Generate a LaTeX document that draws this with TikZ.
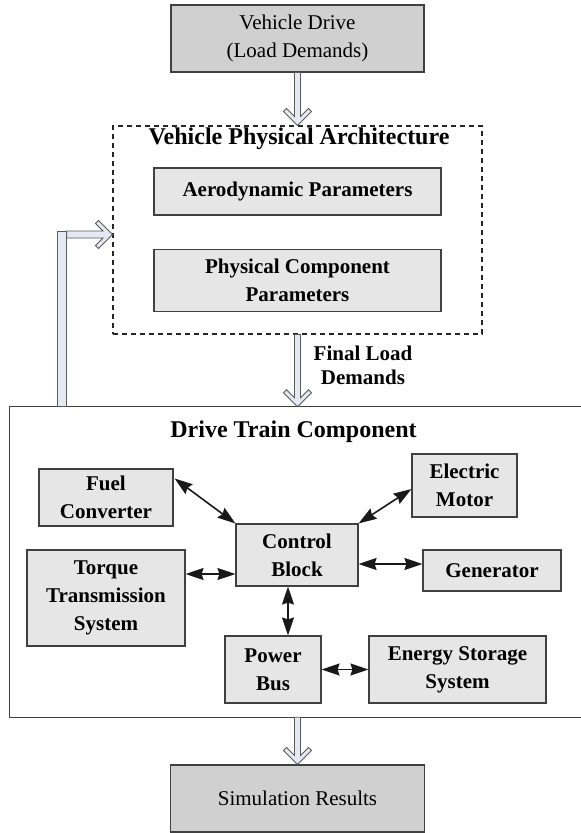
\documentclass[tikz,border=0pt]{standalone}
\usepackage{fontspec}
\setmainfont{Liberation Serif}
\usetikzlibrary{arrows.meta,calc}
\definecolor{boxdark}{HTML}{D0D0D0}
\definecolor{boxlight}{HTML}{E6E6E6}
\definecolor{edge}{HTML}{404040}
\definecolor{pipe}{HTML}{E4E9F3}
\definecolor{pipeedge}{HTML}{5A5A5A}
\tikzset{
  outer/.style={draw=edge, fill=boxdark, line width=1.1pt, inner sep=0pt, align=center,
    font=\fontsize{21}{28}\selectfont},
  part/.style={draw=edge, fill=boxlight, line width=1.1pt, inner sep=0pt, align=center,
    font=\fontsize{21}{28}\selectfont\bfseries},
  heading/.style={inner sep=0pt, align=center, font=\fontsize{24}{28}\selectfont\bfseries},
  note/.style={inner sep=0pt, align=center, font=\fontsize{21}{24}\selectfont\bfseries},
  frame/.style={draw=edge, line width=1.1pt},
  dashframe/.style={draw=black!85, line width=1.1pt, dash pattern=on 5pt off 4pt},
  biarrow/.style={{Stealth[length=18pt,width=12pt,inset=2pt]}-{Stealth[length=18pt,width=12pt,inset=2pt]},
    line width=1.6pt, black!90},
  hollow/.style={draw=pipeedge, fill=pipe, line width=0.8pt, line join=miter},
}
% hollow block arrow pointing down, from anchor #1 to anchor #2
\newcommand\pipedown[2]{%
  \path[hollow] let \p1=(#1), \p2=(#2) in
    (\x1-3pt,\y1) -- (\x1-3pt,\y2+9pt) -- (\x1-11pt,\y2+17pt) -- (\x1-14pt,\y2+14pt)
    -- (\x1,\y2) -- (\x1+14pt,\y2+14pt) -- (\x1+11pt,\y2+17pt) -- (\x1+3pt,\y2+9pt)
    -- (\x1+3pt,\y1) -- cycle;}

\begin{document}
\begin{tikzpicture}[x=1pt,y=-1pt]
\useasboundingbox (0,0) rectangle (581,833);

% input and output
\node[outer, minimum width=253pt, minimum height=67pt] (drive) at (297.5,38.5)
  {Vehicle Drive\\(Load Demands)};
\node[outer, minimum width=254pt, minimum height=67pt] (sim) at (297.5,798.5)
  {Simulation Results};

% vehicle physical architecture
\node[dashframe, minimum width=369pt, minimum height=208pt, inner sep=0pt] (arch) at (297.5,230) {};
\node[heading] (archtitle) at (299,139) {Vehicle Physical Architecture};
\node[part, minimum width=287pt, minimum height=47pt] (aero) at (297.5,191.5)
  {Aerodynamic Parameters};
\node[part, minimum width=287pt, minimum height=62pt] (phys) at (297.5,280.5)
  {Physical Component\\Parameters};

\node[note] (final) at (363,365) {Final Load\\Demands};

% drive train component (frame runs off the right side)
\node[minimum width=571pt, minimum height=310pt, inner sep=0pt] (train) at (295.5,562) {};
\draw[frame] (train.north east) -- (train.north west) -- (train.south west) -- (train.south east);
\node[heading] (traintitle) at (293.5,432) {Drive Train Component};

\node[part, minimum width=134pt, minimum height=57pt] (fuel) at (106,497.5) {Fuel\\Converter};
\node[part, minimum width=105pt, minimum height=63pt] (motor) at (464.5,485.5) {Electric\\Motor};
\node[part, minimum width=122pt, minimum height=62pt] (ctrl) at (297,555) {Control\\Block};
\node[part, minimum width=138pt, minimum height=41pt] (gen) at (492,570.5) {Generator};
\node[part, minimum width=158pt, minimum height=96pt] (torque) at (106,598)
  {Torque\\Transmission\\System};
\node[part, minimum width=96pt, minimum height=67pt] (bus) at (273,669.5) {Power\\Bus};
\node[part, minimum width=177pt, minimum height=67pt] (store) at (457.5,669.5)
  {Energy Storage\\System};

% links around the control block
\coordinate (fuelport) at ($(fuel.north east)+(1,10)$);
\coordinate (motorport) at ($(motor.west)+(0,3.5)$);
\coordinate (genport) at ($(gen.west)+(0,-6.5)$);
\coordinate (torqueport) at ($(ctrl.west)+(0,19)$);
\coordinate (busport) at ($(ctrl.south)+(-9,0)$);
\draw[biarrow] (fuelport) -- (ctrl.north west);
\draw[biarrow] (ctrl.north east) -- (motorport);
\draw[biarrow] (ctrl.east |- genport) -- (genport);
\draw[biarrow] (torque.east |- torqueport) -- (torqueport);
\draw[biarrow] (busport) -- (busport |- bus.north);
\draw[biarrow] (bus.east) -- (store.west);

% load flow
\pipedown{drive.south}{arch.north}
\pipedown{arch.south}{arch.south |- train.north}
\pipedown{sim.north |- train.south}{sim.north}

% feedback from the drive train back to the architecture
\coordinate (fb) at ($(arch.west)+(0,4.5)$);
\path[hollow] let \p1=(train.north west), \p2=(fb) in
  (\x1+48pt,\y1) rectangle (\x1+57pt,\y2+3.5pt);
\path[hollow] let \p1=(train.north west), \p2=(fb) in
  (\x1+57pt,\y2+3.5pt) -- (\x2-9.5pt,\y2+3.5pt) -- (\x2-17pt,\y2+11pt) -- (\x2-14pt,\y2+14pt)
  -- (\x2,\y2) -- (\x2-14pt,\y2-14pt) -- (\x2-17pt,\y2-11pt) -- (\x2-9.5pt,\y2-3.5pt)
  -- (\x1+57pt,\y2-3.5pt) -- cycle;
\end{tikzpicture}
\end{document}
